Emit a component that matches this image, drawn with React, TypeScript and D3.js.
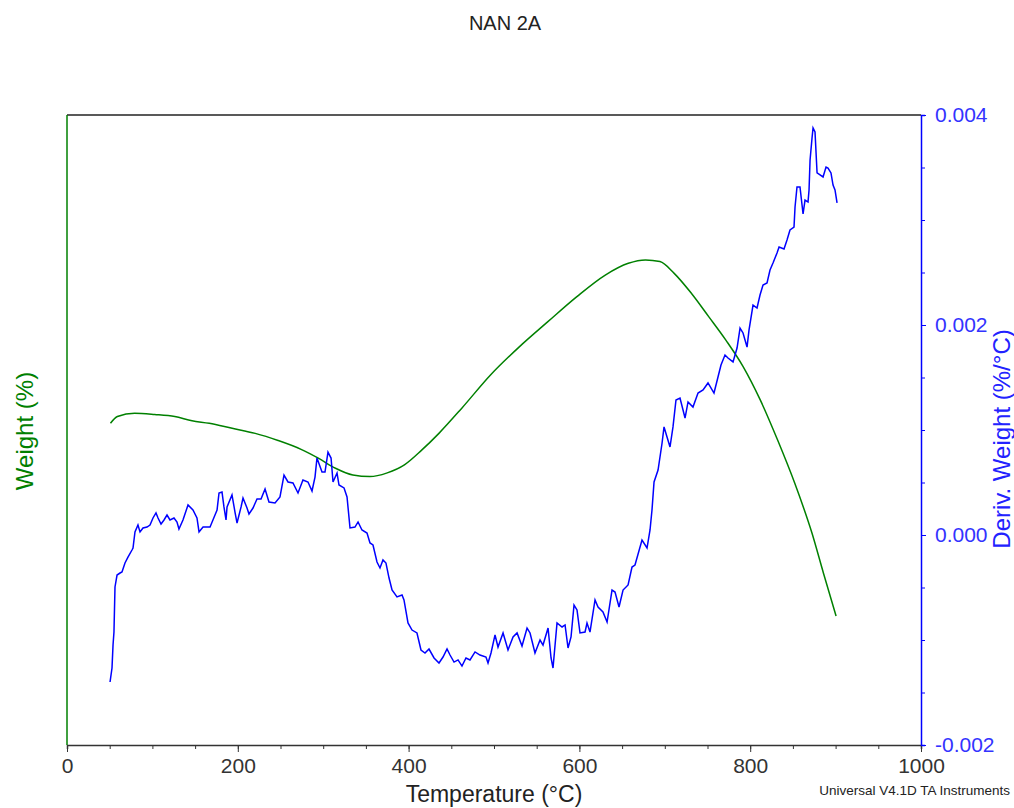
import * as d3 from 'd3';
import { useEffect, useRef } from 'react';

// temperature (°C) / weight (%) for the green TG curve
const weightTemp = [50.9, 59.0, 79.2, 102.7, 126.2, 146.4, 166.6, 193.4, 220.4, 247.2, 274.1, 294.3, 314.4, 334.7, 354.8, 375.0, 395.1, 415.3, 435.5, 462.3, 495.9, 529.6, 563.1, 596.7, 630.3, 657.3, 677.4, 694.3, 711.0, 731.3, 751.4, 771.5, 791.7, 811.9, 832.1, 852.2, 872.4, 885.8, 900.6];
const weightVal = [99.766, 99.782, 99.790, 99.787, 99.782, 99.772, 99.766, 99.754, 99.742, 99.725, 99.704, 99.683, 99.659, 99.643, 99.639, 99.648, 99.667, 99.702, 99.742, 99.802, 99.881, 99.948, 100.008, 100.067, 100.119, 100.147, 100.155, 100.151, 100.123, 100.075, 100.020, 99.964, 99.901, 99.821, 99.726, 99.623, 99.504, 99.409, 99.307];

// temperature (°C) / deriv. weight (x1e-3 %/°C) for the blue DTG curve
const derivTemp = [50.4, 52.7, 53.9, 55.0, 56.2, 58.6, 62.1, 64.4, 67.9, 71.4, 76.1, 77.3, 79.6, 83.1, 85.5, 89.0, 93.7, 97.2, 100.7, 104.2, 106.6, 110.1, 113.6, 117.1, 120.6, 125.3, 128.8, 131.1, 135.8, 141.7, 147.5, 152.2, 154.6, 159.3, 163.9, 167.5, 173.3, 175.7, 178.0, 181.5, 183.8, 186.2, 187.4, 193.2, 196.7, 199.1, 203.8, 206.1, 210.8, 213.1, 217.8, 222.5, 227.2, 231.9, 236.5, 243.6, 249.4, 254.1, 258.8, 264.6, 270.5, 276.3, 282.2, 286.9, 290.4, 292.7, 298.6, 302.1, 305.6, 309.2, 311.5, 316.2, 318.5, 324.4, 327.9, 331.4, 337.2, 340.8, 345.4, 351.3, 354.8, 358.3, 363.0, 366.5, 370.0, 373.5, 377.1, 380.6, 386.4, 392.3, 394.6, 399.3, 404.0, 409.8, 414.5, 419.2, 423.9, 429.8, 435.6, 440.3, 445.0, 448.5, 453.2, 457.9, 462.5, 467.2, 471.9, 477.8, 483.6, 490.6, 493.0, 496.5, 501.2, 504.7, 510.6, 516.4, 522.3, 527.0, 532.8, 538.7, 542.2, 548.0, 553.9, 557.4, 563.3, 566.8, 569.1, 573.8, 579.7, 583.2, 586.7, 590.2, 593.7, 597.2, 600.7, 606.6, 608.9, 612.4, 618.3, 621.8, 627.6, 632.4, 638.2, 641.7, 646.4, 651.1, 657.0, 661.6, 665.1, 673.3, 679.2, 682.7, 685.0, 687.4, 692.1, 696.8, 699.1, 702.6, 706.1, 709.6, 713.1, 717.8, 723.7, 727.2, 733.0, 738.9, 744.8, 750.6, 757.6, 762.3, 765.8, 770.5, 774.0, 779.9, 784.6, 788.1, 791.6, 796.3, 798.6, 803.3, 808.0, 811.5, 815.0, 819.7, 823.2, 826.7, 831.4, 833.8, 839.6, 843.1, 846.6, 851.3, 852.5, 854.8, 858.3, 860.7, 861.9, 864.2, 867.7, 868.9, 870.1, 872.4, 873.6, 875.9, 878.3, 881.8, 885.3, 888.8, 891.1, 894.6, 897.0, 899.3, 901.7];
const derivVal = [-1.400, -1.267, -1.048, -0.924, -0.495, -0.381, -0.362, -0.352, -0.267, -0.210, -0.143, -0.124, 0.029, 0.095, 0.029, 0.067, 0.076, 0.095, 0.162, 0.210, 0.162, 0.105, 0.143, 0.190, 0.143, 0.162, 0.124, 0.057, 0.143, 0.286, 0.238, 0.162, 0.029, 0.076, 0.076, 0.076, 0.190, 0.238, 0.400, 0.410, 0.267, 0.143, 0.267, 0.381, 0.219, 0.114, 0.267, 0.352, 0.257, 0.200, 0.257, 0.343, 0.343, 0.438, 0.314, 0.305, 0.362, 0.571, 0.505, 0.495, 0.400, 0.524, 0.505, 0.419, 0.552, 0.733, 0.600, 0.600, 0.790, 0.733, 0.505, 0.590, 0.476, 0.448, 0.362, 0.067, 0.076, 0.124, 0.048, 0.019, -0.076, -0.095, -0.257, -0.314, -0.238, -0.267, -0.410, -0.524, -0.590, -0.571, -0.619, -0.838, -0.905, -0.933, -1.095, -1.124, -1.086, -1.171, -1.219, -1.162, -1.086, -1.143, -1.210, -1.190, -1.248, -1.171, -1.190, -1.114, -1.143, -1.162, -1.219, -1.124, -0.952, -1.067, -0.933, -1.095, -0.971, -0.933, -1.057, -0.886, -0.933, -1.124, -1.000, -1.048, -0.886, -1.171, -1.267, -0.838, -0.876, -0.857, -1.076, -0.971, -0.667, -0.714, -0.933, -0.924, -0.838, -0.924, -0.619, -0.686, -0.733, -0.829, -0.524, -0.543, -0.686, -0.524, -0.476, -0.305, -0.286, -0.048, -0.124, 0.048, 0.238, 0.505, 0.619, 0.876, 1.029, 0.933, 0.838, 1.029, 1.286, 1.305, 1.114, 1.267, 1.219, 1.352, 1.381, 1.448, 1.352, 1.505, 1.619, 1.714, 1.686, 1.648, 1.781, 1.971, 1.924, 1.790, 1.952, 2.190, 2.162, 2.286, 2.381, 2.400, 2.524, 2.590, 2.686, 2.743, 2.724, 2.810, 2.905, 2.933, 3.124, 3.314, 3.314, 3.143, 3.057, 3.190, 3.171, 3.286, 3.571, 3.781, 3.876, 3.838, 3.448, 3.429, 3.410, 3.505, 3.495, 3.448, 3.333, 3.286, 3.162];

const xTicks = [0, 200, 400, 600, 800, 1000];
const derivTicks = [0.004, 0.002, 0.000, -0.002];

const FONT = 'Liberation Sans, Arial, sans-serif';

const App = () => {
  const svgRef = useRef(null);

  useEffect(() => {
    const svg = d3.select(svgRef.current);
    svg.selectAll('*').remove();
    const margin = { top: 115, right: 93, bottom: 63, left: 67 };
    const svgWidth = 1014;
    const svgHeight = 808;
    const width = svgWidth - margin.left - margin.right;
    const height = svgHeight - margin.top - margin.bottom;

    const x = d3.scaleLinear().domain([0, 1000]).range([0, width]);
    const yW = d3.scaleLinear().domain([99.0, 100.5]).range([height, 0]);
    const yD = d3.scaleLinear().domain([-0.002, 0.004]).range([height, 0]);

    const g = svg.append('g').attr('transform', `translate(${margin.left},${margin.top})`);

    // title
    svg.append('text')
      .attr('x', 505).attr('y', 30)
      .attr('text-anchor', 'middle')
      .style('font-family', FONT).style('font-size', '20px').style('fill', '#222')
      .text('NAN 2A');

    // top frame line
    g.append('line')
      .attr('x1', 0).attr('x2', width).attr('y1', 0).attr('y2', 0)
      .attr('stroke', '#222').attr('stroke-width', 1.5);

    // bottom axis with minor ticks
    const xAxis = g.append('g').attr('transform', `translate(0,${height})`);
    xAxis.call(d3.axisBottom(x).tickValues(d3.range(0, 1001, 50)).tickSize(4).tickFormat(() => ''))
      .call(a => a.selectAll('line').attr('stroke', '#333'))
      .call(a => a.select('.domain').attr('stroke', '#333').attr('stroke-width', 1.5));
    xAxis.append('g')
      .call(d3.axisBottom(x).tickValues(xTicks).tickSize(7).tickPadding(6).tickFormat(d3.format('d')))
      .call(a => a.select('.domain').remove())
      .call(a => a.selectAll('line').attr('stroke', '#333'))
      .call(a => a.selectAll('text').style('font-family', FONT).style('font-size', '21px').style('fill', '#333'));

    // left axis (weight), plain green line
    g.append('line')
      .attr('x1', 0).attr('x2', 0).attr('y1', 0).attr('y2', height)
      .attr('stroke', '#008000').attr('stroke-width', 1.5);

    // right axis (deriv. weight)
    const rAxis = g.append('g').attr('transform', `translate(${width},0)`);
    rAxis.call(d3.axisRight(yD).tickValues(d3.range(-0.002, 0.00401, 0.0005)).tickSize(4).tickFormat(() => ''))
      .call(a => a.selectAll('line').attr('stroke', '#0000ff'))
      .call(a => a.select('.domain').attr('stroke', '#0000ff').attr('stroke-width', 1.5));
    rAxis.append('g')
      .call(d3.axisRight(yD).tickValues(derivTicks).tickSize(5).tickPadding(9)
        .tickFormat(d => d3.format('.3f')(d).replace('−', '-')))
      .call(a => a.select('.domain').remove())
      .call(a => a.selectAll('line').attr('stroke', '#0000ff'))
      .call(a => a.selectAll('text').style('font-family', FONT).style('font-size', '21px').style('fill', '#3333ff'));

    // axis titles
    svg.append('text')
      .attr('x', 494).attr('y', 802)
      .attr('text-anchor', 'middle')
      .style('font-family', FONT).style('font-size', '23px').style('fill', '#222')
      .text('Temperature (°C)');

    svg.append('text')
      .attr('transform', 'translate(33,431) rotate(-90)')
      .attr('text-anchor', 'middle')
      .style('font-family', FONT).style('font-size', '24px').style('fill', '#008000')
      .text('Weight (%)');

    svg.append('text')
      .attr('transform', 'translate(1010,439) rotate(-90)')
      .attr('text-anchor', 'middle')
      .style('font-family', FONT).style('font-size', '24px').style('fill', '#2222ff')
      .text('Deriv. Weight (%/°C)');

    svg.append('text')
      .attr('x', 1010).attr('y', 795)
      .attr('text-anchor', 'end')
      .style('font-family', FONT).style('font-size', '13.5px').style('fill', '#222')
      .text('Universal V4.1D TA Instruments');

    // curves
    const weightData = weightTemp.map((t, i) => [t, weightVal[i]]);
    const derivData = derivTemp.map((t, i) => [t, derivVal[i] / 1000]);

    g.append('path')
      .datum(weightData)
      .attr('fill', 'none')
      .attr('stroke', '#008000')
      .attr('stroke-width', 1.5)
      .attr('d', d3.line().x(d => x(d[0])).y(d => yW(d[1])).curve(d3.curveMonotoneX));

    g.append('path')
      .datum(derivData)
      .attr('fill', 'none')
      .attr('stroke', '#0000ff')
      .attr('stroke-width', 1.5)
      .attr('d', d3.line().x(d => x(d[0])).y(d => yD(d[1])));
  }, []);

  return (
    <svg ref={svgRef} width={1014} height={808} style={{ position: 'absolute', left: 0, top: 0, background: '#fff' }}></svg>
  );
};

export default App;
